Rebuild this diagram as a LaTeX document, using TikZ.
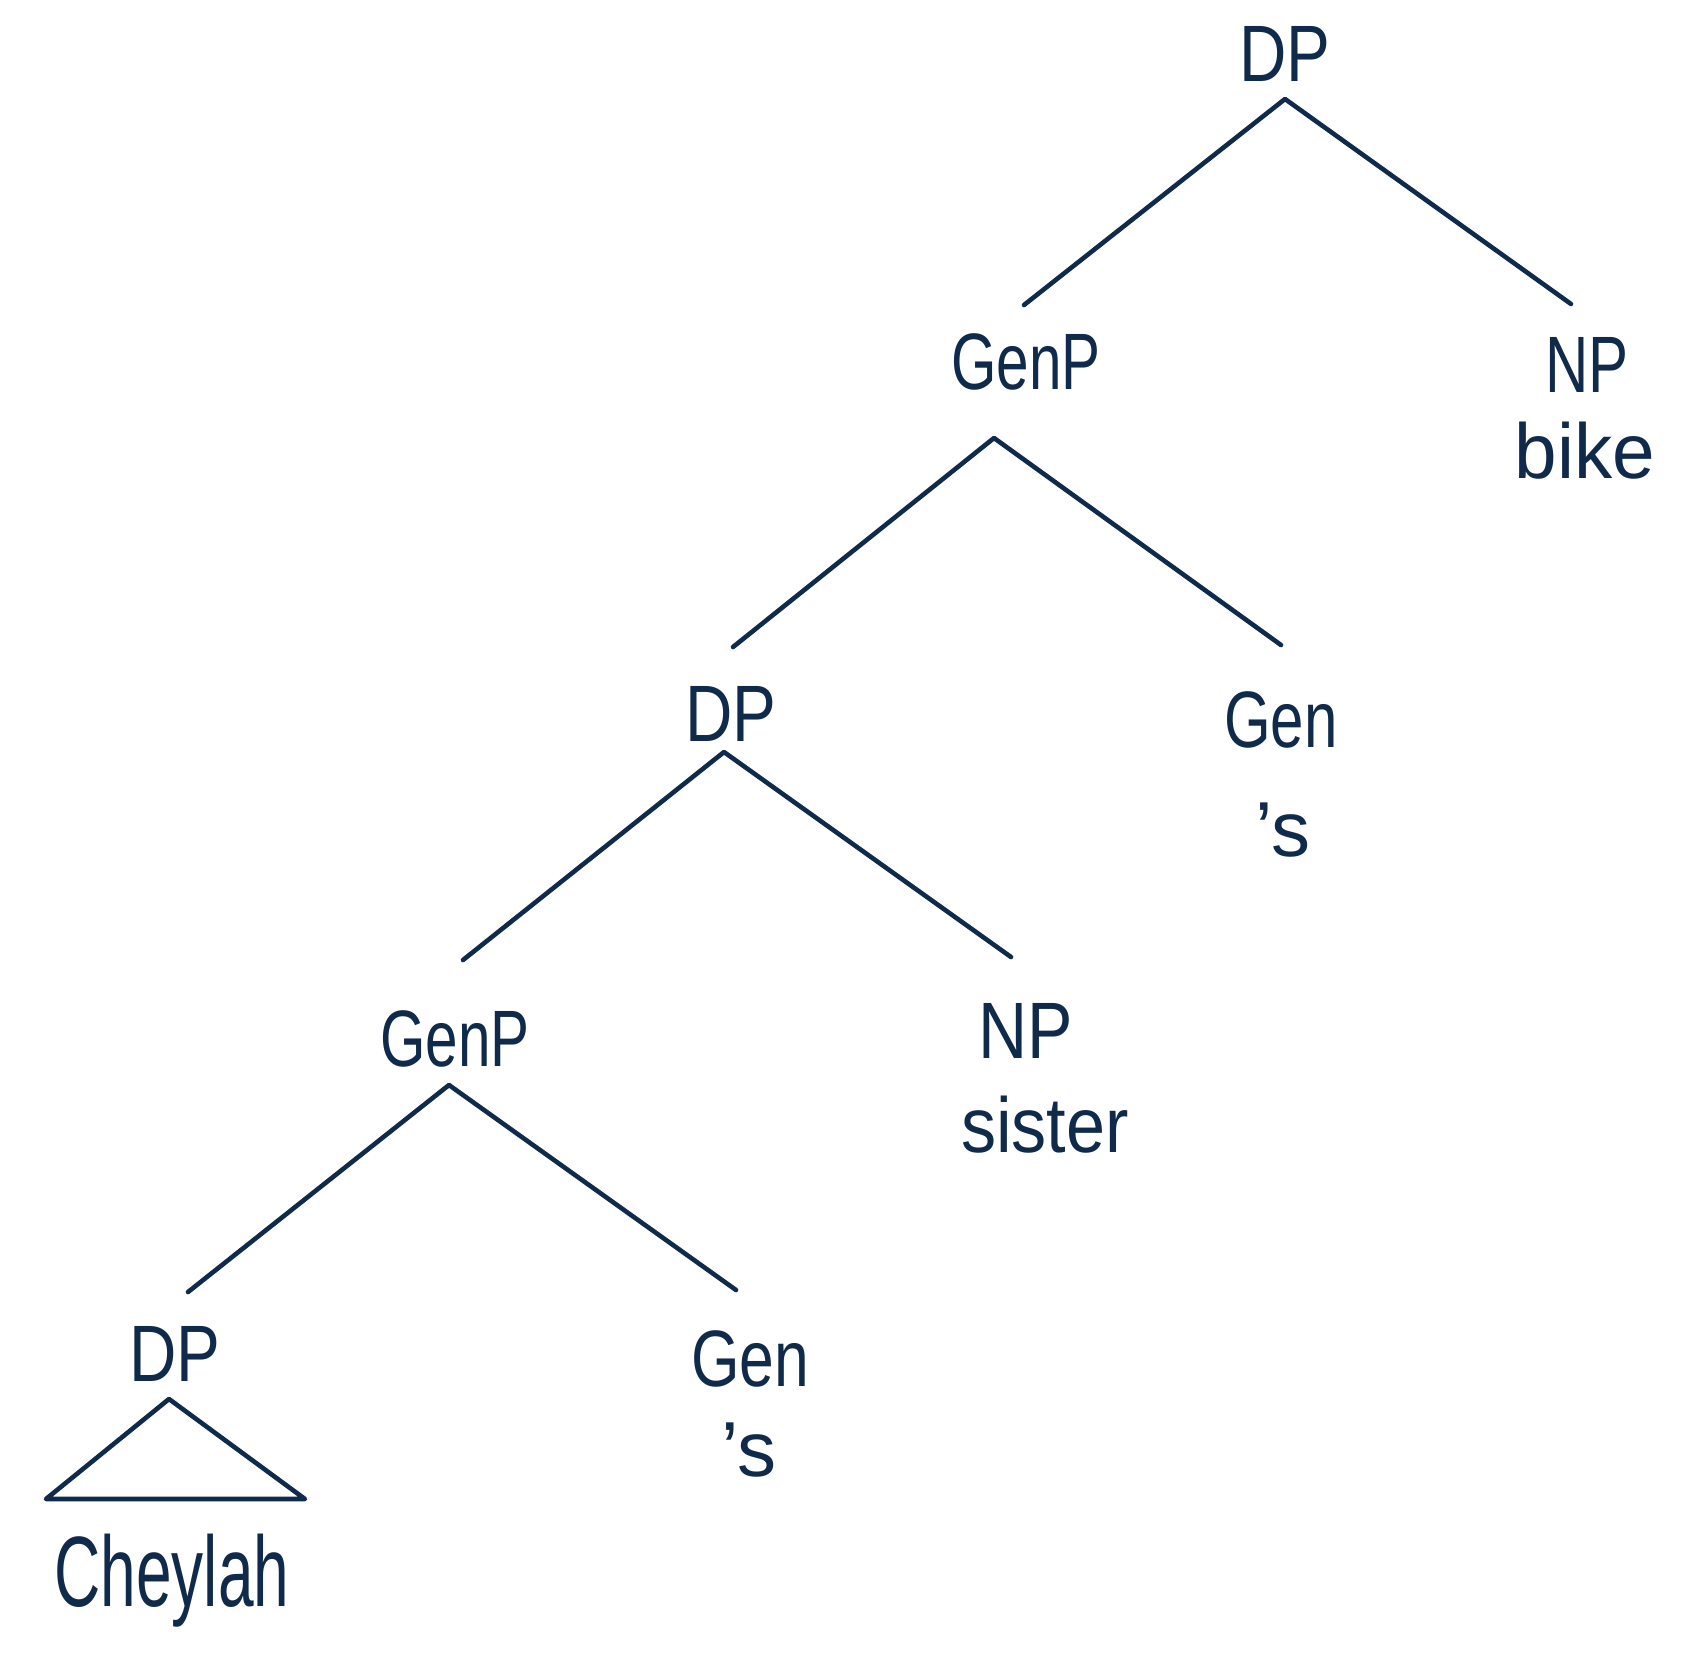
\documentclass[tikz,border=0pt]{standalone}
\usepackage{fontspec}
\setmainfont{Liberation Sans}
\definecolor{ink}{HTML}{0F2A4A}
\newcommand{\hw}[2]{\scalebox{#1}[1]{#2}}
\begin{document}
\begin{tikzpicture}[x=1pt,y=-1pt,
  lab/.style={anchor=base,inner sep=0pt,text=ink,font=\fontsize{80}{90}\selectfont},
  word/.style={anchor=base,inner sep=0pt,text=ink,font=\fontsize{78}{90}\selectfont},
  big/.style={anchor=base,inner sep=0pt,text=ink,font=\fontsize{100}{110}\selectfont},
  branch/.style={draw=ink,line width=4.6pt,line cap=round,line join=round}]
\useasboundingbox (0,0) rectangle (1685,1652);
% labels
\node[lab] (dp1) at (1285,81) {\hw{0.82}{DP}};
\node[lab] (genp1) at (1026,389) {\hw{0.73}{GenP}};
\node[lab] (np1) at (1587,392) {\hw{0.75}{NP}};
\node[word] (bike) at (1585,478) {\hw{0.98}{bike}};
\node[lab] (dp2) at (731,741) {\hw{0.82}{DP}};
\node[lab] (gen1) at (1281,747) {\hw{0.75}{Gen}};
\node[word] (s1) at (1283,856) {’s};
\node[lab] (genp2) at (455,1066) {\hw{0.73}{GenP}};
\node[lab] (np2) at (1026,1058) {\hw{0.85}{NP}};
\node[word] (sister) at (1045,1152) {\hw{0.9}{sister}};
\node[lab] (dp3) at (175,1381) {\hw{0.82}{DP}};
\node[lab] (gen2) at (750,1386) {\hw{0.78}{Gen}};
\node[word] (s2) at (749,1476) {’s};
\node[big] (cheylah) at (172,1606) {\hw{0.64}{Cheylah}};
% branch points
\coordinate (a1) at (1285,99);
\coordinate (a1l) at (1024,305);
\coordinate (a1r) at (1571,304);
\coordinate (a2) at (994,438);
\coordinate (a2l) at (733,647);
\coordinate (a2r) at (1281,645);
\coordinate (a3) at (724,752);
\coordinate (a3l) at (463,960);
\coordinate (a3r) at (1011,957);
\coordinate (a4) at (449,1085);
\coordinate (a4l) at (188,1292);
\coordinate (a4r) at (736,1290);
\coordinate (t1) at (169,1399);
\coordinate (t2) at (46,1499);
\coordinate (t3) at (305,1499);
% branches
\draw[branch] (a1l) -- (a1) -- (a1r);
\draw[branch] (a2l) -- (a2) -- (a2r);
\draw[branch] (a3l) -- (a3) -- (a3r);
\draw[branch] (a4l) -- (a4) -- (a4r);
\draw[branch] (t1) -- (t2) -- (t3) -- cycle;
\end{tikzpicture}
\end{document}
